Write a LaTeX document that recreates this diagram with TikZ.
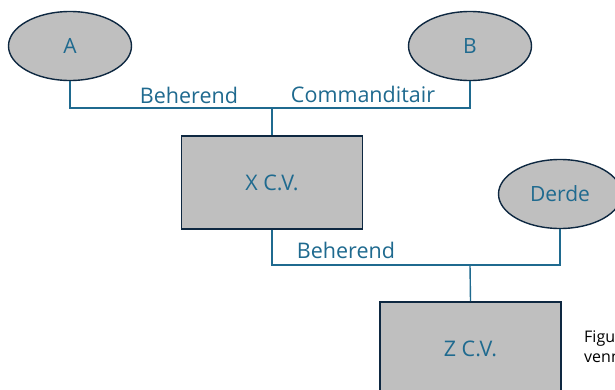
\documentclass[tikz,border=0pt]{standalone}
\usepackage{fontspec}
\setmainfont{Open Sans}
\usetikzlibrary{shapes,calc,positioning}
\definecolor{lijn}{HTML}{1F6A8F}
\definecolor{rand}{HTML}{0E2841}
\definecolor{grijs}{HTML}{BFBFBF}
\tikzset{
    x=1pt,y=-1pt,
    partner/.style ={ellipse, draw=rand, fill=grijs, line width=1.4pt, inner sep=0pt,
        minimum width=123pt, minimum height=69pt, text=lijn, font=\fontsize{21}{24}\selectfont},
    cv/.style ={rectangle, draw=rand, fill=grijs, line width=1.8pt, inner sep=0pt,
        minimum width=181pt, minimum height=93pt, text=lijn, font=\fontsize{21.5}{24}\selectfont},
    rol/.style = {inner sep=0pt, text=lijn, font=\fontsize{21.5}{24}\selectfont},
    verbinding/.style = {draw=lijn, line width=1.4pt}
}
\begin{document}
\begin{tikzpicture}
    \useasboundingbox (0,0) rectangle (615,389);
    \clip (0,0) rectangle (615,389);
    \fill[white] (0,0) rectangle (615,389);

    \node[partner] (1) at (70,46) {A};
    \node[partner] (2) at (470,46) {B};
    \node[cv] (3) at (272,182.5) {X C.V.};
    \node[partner] (4) at (560,194) {Derde};
    \node[cv] (5) at (470.5,348.5) {Z C.V.};

    \coordinate (j1) at (272,108);
    \coordinate (j2) at (470,265);

    \draw[verbinding] (1.south) |- (j1) -| (2.south);
    \draw[verbinding] (j1) -- (3.north);
    \draw[verbinding] (3.south) |- (j2) -| (4.south);
    \draw[verbinding] (j2) -- (5.north);

    \node[rol] (r1) at (189,95) {Beherend};
    \node[rol] (r2) at (363,94) {Commanditair};
    \node[rol] (r3) at (346,250) {Beherend};

    \node[anchor=west, align=left, inner sep=0pt, font=\fontsize{16}{20}\selectfont] (6) at (584,347) {Figu\\venn};
\end{tikzpicture}
\end{document}
